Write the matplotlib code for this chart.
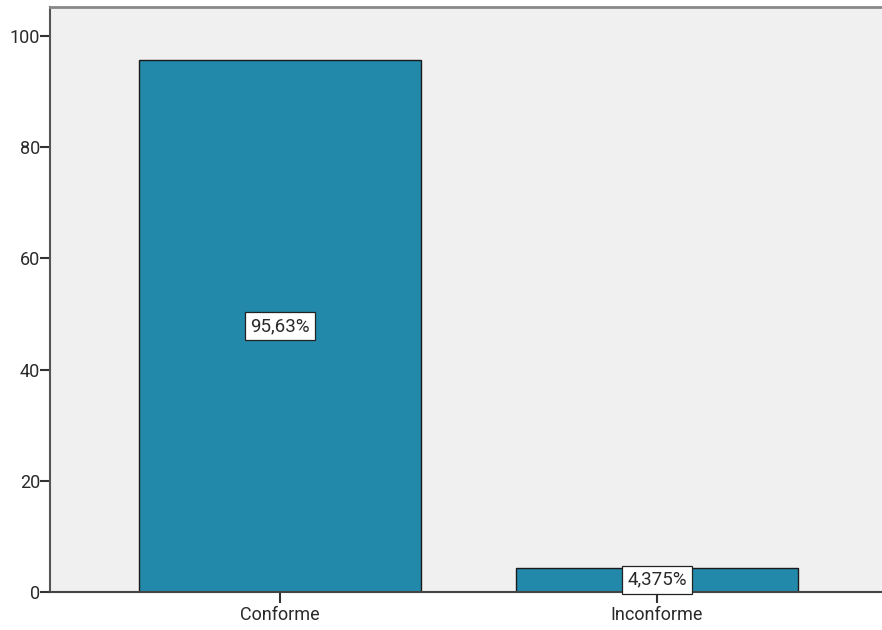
import matplotlib
matplotlib.use("Agg")
import matplotlib.pyplot as plt

categories = ["Conforme", "Inconforme"]
values = [95.63, 4.375]
labels = ["95,63%", "4,375%"]
yticks = [0, 20, 40, 60, 80, 100]

plt.rcParams['font.family'] = ['Roboto', 'DejaVu Sans']

W, H = 882, 630
fig = plt.figure(figsize=(W/100, H/100), dpi=100)
left, right, top, bottom = 50, 882, 7, 592
ax = fig.add_axes([left/W, (H-bottom)/H, (right-left)/W, (bottom-top)/H])
ax.set_facecolor('#F0F0F0')

x = list(range(len(categories)))
ax.bar(x, values, width=0.75, color='#2389AA', edgecolor='#1a1a1a', linewidth=1.0, zorder=2)

for xi, v, lab in zip(x, values, labels):
    ax.text(xi, v/2, lab, ha='center', va='center', fontsize=13.5, color='#2a2a2a', zorder=3,
            bbox=dict(boxstyle='square,pad=0.28', facecolor='white', edgecolor='#222222', linewidth=0.9))

ax.set_xlim(-0.61, 1.597)
ax.set_ylim(0, 105.2)
ax.set_xticks(x)
ax.set_xticklabels(categories, fontsize=13, color='#2a2a2a')
ax.set_yticks(yticks)
ax.set_yticklabels([str(t) for t in yticks], fontsize=13, color='#2a2a2a')
ax.tick_params(axis='y', direction='out', length=7, width=1.5, color='#333333', pad=0)
ax.tick_params(axis='x', direction='out', length=8, width=1.5, color='#333333', pad=2)

ax.spines['right'].set_visible(False)
ax.spines['top'].set_color('#888888')
ax.spines['top'].set_linewidth(2)
ax.spines['left'].set_color('#555555')
ax.spines['left'].set_linewidth(1.5)
ax.spines['bottom'].set_color('#444444')
ax.spines['bottom'].set_linewidth(1.5)

fig.savefig('out.png', dpi=100, facecolor='white')
